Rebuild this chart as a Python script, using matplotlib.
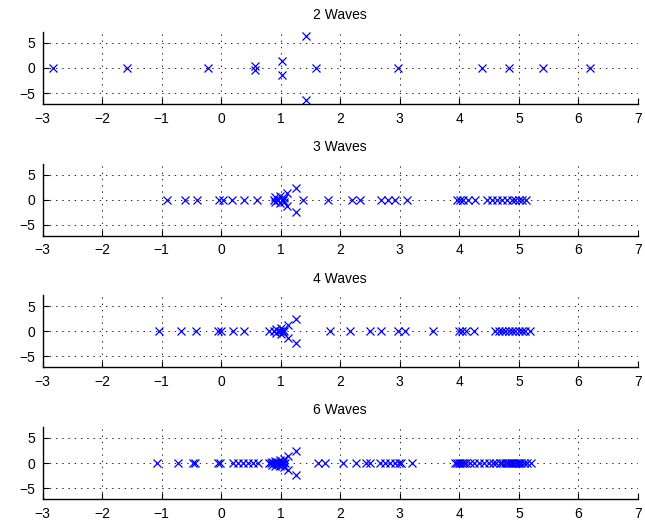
import numpy as np
import matplotlib
matplotlib.use("Agg")
import matplotlib.pyplot as plt

plt.rcParams['font.family'] = ['Liberation Sans', 'DejaVu Sans']
plt.rcParams['font.size'] = 10
plt.rcParams['lines.scale_dashes'] = False

re2w = [-2.82, -1.59, -0.22, 0.56, 0.56, 1.03, 1.03, 1.43, 1.43, 1.60,
        2.97, 4.38, 4.84, 5.40, 6.20]
im2w = [0, 0, 0, 0.45, -0.45, 1.4, -1.4, 6.3, -6.3, 0,
        0, 0, 0, 0, 0]

re3w = [-0.91, -0.61, -0.40, -0.03, 0.03, 0.18, 0.38, 0.61,
        0.88, 0.90, 0.90, 0.96, 0.98, 0.98, 1.04, 1.06, 1.06, 1.11, 1.11,
        1.25, 1.25, 1.37, 1.79, 2.19, 2.33, 2.68, 2.81, 2.92, 3.12,
        3.96, 4.01, 4.07, 4.14, 4.27, 4.46, 4.55, 4.63, 4.72, 4.80,
        4.88, 4.94, 5.00, 5.05, 5.12]
im3w = [0, 0, 0, 0, 0, 0, 0, 0,
        0, 0.5, -0.5, 0, 0.7, -0.7, 0, 0.4, -0.4, 1.3, -1.3,
        2.4, -2.4, 0, 0, 0, 0, 0, 0, 0, 0,
        0, 0, 0, 0, 0, 0, 0, 0, 0, 0,
        0, 0, 0, 0, 0]

re4w = [-1.05, -0.68, -0.43, -0.06, 0.00, 0.20, 0.38,
        0.81, 0.88, 0.92, 0.92, 0.98, 1.00, 1.00, 1.04, 1.04, 1.06,
        1.13, 1.13, 1.26, 1.26, 1.83, 2.16, 2.50, 2.69, 2.97, 3.09, 3.55,
        3.99, 4.04, 4.12, 4.24, 4.60, 4.66, 4.72, 4.77, 4.83, 4.88,
        4.94, 5.00, 5.05, 5.11, 5.18]
im4w = [0, 0, 0, 0, 0, 0, 0,
        0, 0, 0.4, -0.4, 0, 0.6, -0.6, 0.2, -0.2, 0,
        1.25, -1.25, 2.4, -2.4, 0, 0, 0, 0, 0, 0, 0,
        0, 0, 0, 0, 0, 0, 0, 0, 0, 0,
        0, 0, 0, 0, 0]

re6w = [-1.08, -0.73, -0.48, -0.44, -0.06, -0.02, 0.20, 0.28, 0.37,
        0.45, 0.53, 0.62,
        0.80, 0.84, 0.86, 0.86, 0.88, 0.90, 0.90, 0.92, 0.94, 0.94,
        0.96, 0.98, 0.98, 1.00, 1.02, 1.02, 1.04, 1.06, 1.06, 1.08,
        1.13, 1.13, 1.26, 1.26,
        1.63, 1.74, 2.05, 2.27, 2.44, 2.50, 2.67, 2.75, 2.84, 2.92,
        2.98, 3.02, 3.20,
        3.93, 3.96, 3.99, 4.02, 4.05, 4.08, 4.12, 4.18, 4.25, 4.33,
        4.42, 4.50, 4.56, 4.62, 4.68, 4.72, 4.76, 4.80, 4.83, 4.86,
        4.89, 4.92, 4.95, 4.98, 5.01, 5.04, 5.08, 5.13, 5.20]
im6w = [0, 0, 0, 0, 0, 0, 0, 0, 0,
        0, 0, 0,
        0, 0, 0.3, -0.3, 0, 0.5, -0.5, 0, 0.2, -0.2,
        0, 0.6, -0.6, 0, 0.3, -0.3, 0, 0.8, -0.8, 0,
        1.4, -1.4, 2.3, -2.3,
        0, 0, 0, 0, 0, 0, 0, 0, 0, 0,
        0, 0, 0,
        0, 0, 0, 0, 0, 0, 0, 0, 0, 0,
        0, 0, 0, 0, 0, 0, 0, 0, 0, 0,
        0, 0, 0, 0, 0, 0, 0, 0, 0]

titles = ["2 Waves", "3 Waves", "4 Waves", "6 Waves"]
reals = [re2w, re3w, re4w, re6w]
imags = [im2w, im3w, im4w, im6w]
xticks = np.arange(-3, 8)
yticks = [-5, 0, 5]

fig = plt.figure(figsize=(6.45, 5.31), dpi=100)
bottoms = [0.804, 0.556, 0.308, 0.060]

for k in range(4):
    ax = fig.add_axes([0.066, bottoms[k], 0.923, 0.136])
    ax.plot(reals[k], imags[k], 'x', color=(0, 0, 1), markersize=6,
            markeredgewidth=0.9)
    ax.set_xlim(-3, 7)
    ax.set_ylim(-7.2, 7.2)
    ax.set_xticks(xticks)
    ax.set_yticks(yticks)
    ax.grid(True, color='k', linestyle=(0, (1, 3.5)), linewidth=0.6)
    ax.spines['top'].set_visible(False)
    ax.spines['right'].set_visible(False)
    ax.spines['left'].set_linewidth(1.0)
    ax.spines['bottom'].set_linewidth(1.0)
    ax.tick_params(direction='in', length=4, width=0.8, labelsize=10, pad=5.5)
    ax.set_title(titles[k], fontsize=10, pad=9)

fig.savefig("out.png", dpi=100)
